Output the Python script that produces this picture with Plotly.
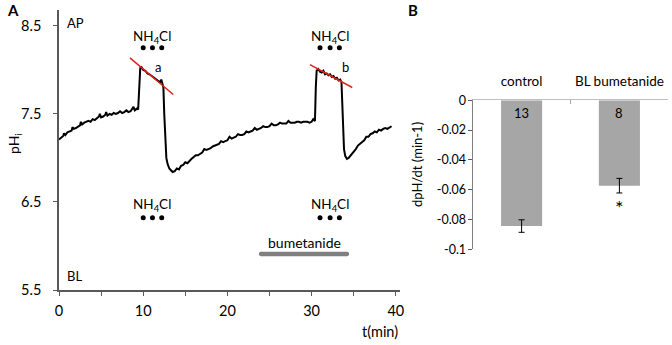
import plotly.graph_objects as go

# ---------------- Panel A data ----------------
t_min = [0, 0.25, 0.5, 0.6, 0.75, 1.0, 1.25, 1.5, 1.6, 1.75, 2.0, 2.25, 2.5, 2.6, 2.75, 3.0, 3.25, 3.5,
         3.75, 4.0, 4.25, 4.5, 4.75, 4.85, 5.0, 5.25, 5.5, 5.6, 5.75, 6.0, 6.25, 6.5, 6.75, 7.0, 7.25,
         7.5, 7.75, 8.0, 8.25, 8.5, 8.75, 8.85, 9.0, 9.25, 9.4,
         9.55, 9.65, 9.8, 10.0, 10.25, 10.5, 10.75, 11.0, 11.25, 11.5, 11.75, 12.0, 12.15, 12.3,
         12.4, 12.5, 12.6, 12.75, 12.9, 13.1, 13.3, 13.5, 13.75,
         14.0, 14.25, 14.5, 14.75, 15.0, 15.25, 15.5, 15.75, 16.0, 16.25, 16.5, 16.75, 17.0, 17.25,
         17.5, 17.75, 18.0, 18.25, 18.5, 18.75, 19.0, 19.25, 19.5, 19.75, 20.0, 20.25, 20.5, 20.75,
         21.0, 21.25, 21.5, 21.75, 22.0, 22.25, 22.5, 22.75, 23.0, 23.25, 23.5, 23.75, 24.0, 24.25,
         24.5, 24.75, 25.0, 25.25, 25.5, 25.75, 26.0, 26.25, 26.5, 26.75, 27.0, 27.25, 27.5, 27.75,
         28.0, 28.25, 28.5, 28.75, 29.0, 29.25, 29.5, 29.75, 30.0, 30.2, 30.4,
         30.5, 30.6, 30.8, 31.0, 31.2, 31.4, 31.6, 31.8, 32.0, 32.2, 32.4, 32.6, 32.8, 33.0, 33.2,
         33.4, 33.55, 33.65, 33.75, 33.85, 34.0, 34.2, 34.4, 34.75, 35.0, 35.25, 35.5, 35.75, 36.0,
         36.25, 36.5, 36.75, 37.0, 37.25, 37.5, 37.75, 38.0, 38.25, 38.5, 38.75, 39.0, 39.25, 39.5]
ph_i = [7.21, 7.23, 7.25, 7.28, 7.26, 7.29, 7.30, 7.31, 7.35, 7.33, 7.34, 7.36, 7.37, 7.41, 7.38, 7.40, 7.41, 7.42,
        7.41, 7.44, 7.43, 7.45, 7.47, 7.50, 7.46, 7.47, 7.49, 7.52, 7.48, 7.50, 7.49, 7.51, 7.50, 7.51, 7.53,
        7.51, 7.52, 7.54, 7.52, 7.53, 7.56, 7.58, 7.54, 7.56, 7.55,
        7.90, 8.02, 8.03, 8.00, 7.99, 7.96, 7.95, 7.93, 7.92, 7.90, 7.88, 7.86, 7.89, 7.84,
        7.80, 7.50, 7.20, 7.00, 6.93, 6.88, 6.86, 6.84, 6.85,
        6.88, 6.87, 6.91, 6.92, 6.95, 6.94, 6.97, 6.99, 7.01, 7.03, 7.03, 7.05, 7.06, 7.10,
        7.09, 7.10, 7.11, 7.13, 7.14, 7.15, 7.16, 7.19, 7.18, 7.19, 7.20, 7.24, 7.22, 7.23,
        7.24, 7.27, 7.26, 7.26, 7.27, 7.30, 7.29, 7.30, 7.31, 7.34, 7.32, 7.33, 7.34, 7.36,
        7.35, 7.35, 7.36, 7.39, 7.37, 7.37, 7.38, 7.40, 7.39, 7.39, 7.39, 7.42, 7.40, 7.40,
        7.40, 7.41, 7.41, 7.40, 7.41, 7.41, 7.41, 7.40, 7.41, 7.44, 7.42,
        7.80, 7.99, 8.01, 7.98, 7.97, 7.99, 7.95, 7.96, 7.94, 7.95, 7.92, 7.93, 7.90, 7.91, 7.88,
        7.89, 7.86, 7.60, 7.30, 7.10, 7.02, 6.99, 7.00, 7.04, 7.08, 7.10, 7.14, 7.16, 7.19,
        7.20, 7.24, 7.24, 7.27, 7.28, 7.30, 7.29, 7.32, 7.31, 7.33, 7.34, 7.33, 7.35, 7.36]

# slope lines a and b (end points)
slope_a_t = [8.43, 13.57]
slope_a_ph = [8.136, 7.72]
slope_b_t = [29.8, 34.83]
slope_b_ph = [8.06, 7.80]

# NH4Cl pulse markers
nh4cl_t1 = [10.0, 11.1, 12.2]
nh4cl_t2 = [31.0, 32.2, 33.3]
ap_dot_ph = 8.25
bl_dot_ph = 6.32

# bumetanide application interval
bumetanide_t = [24.0, 34.2]
bumetanide_ph = 5.91

x_ticks_a = [0, 10, 20, 30, 40]
y_ticks_a = [5.5, 6.5, 7.5, 8.5]
y_ticktext_a = ["5.5", "6.5", "7.5", "8.5"]

# ---------------- Panel B data ----------------
groups = ["control", "BL bumetanide"]
dph_dt = [-0.0844, -0.0573]
dph_err = [0.0042, 0.0049]
n_cells = ["13", "8"]
y_ticks_b = [0, -0.02, -0.04, -0.06, -0.08, -0.1]
y_ticktext_b = ["0", "-0.02", "-0.04", "-0.06", "-0.08", "-0.1"]

FONT = "Lato, Carlito, Calibri, sans-serif"
W, H = 672, 345


def px(x):
    return x / W


def py(y):
    return 1 - y / H


fig = go.Figure()

# trace
fig.add_trace(go.Scatter(x=t_min, y=ph_i, mode="lines", line=dict(color="black", width=2),
                         xaxis="x", yaxis="y", hoverinfo="skip"))
for tt, pp in [(slope_a_t, slope_a_ph), (slope_b_t, slope_b_ph)]:
    fig.add_trace(go.Scatter(x=tt, y=pp, mode="lines", line=dict(color="#e3221c", width=1.5),
                             xaxis="x", yaxis="y", hoverinfo="skip"))
for tt in [nh4cl_t1, nh4cl_t2]:
    for yy in [ap_dot_ph, bl_dot_ph]:
        fig.add_trace(go.Scatter(x=tt, y=[yy] * len(tt), mode="markers",
                                 marker=dict(color="black", size=5), xaxis="x", yaxis="y",
                                 hoverinfo="skip"))
fig.add_trace(go.Scatter(x=bumetanide_t, y=[bumetanide_ph] * 2, mode="lines+markers",
                         line=dict(color="#808080", width=4.5),
                         marker=dict(color="#808080", size=4.5, line=dict(width=0)),
                         xaxis="x", yaxis="y", hoverinfo="skip"))

# bars
fig.add_trace(go.Bar(x=groups, y=dph_dt, marker=dict(color="#a6a6a6", line=dict(width=0)),
                     error_y=dict(type="data", array=dph_err, color="black", thickness=1, width=3),
                     xaxis="x2", yaxis="y2", hoverinfo="skip"))

axis_col = "#595959"
fig.update_layout(
    width=W, height=H, margin=dict(l=0, r=0, t=0, b=0),
    paper_bgcolor="white", plot_bgcolor="white", showlegend=False,
    font=dict(family=FONT, color="black", size=13),
    bargap=0.58,
    xaxis=dict(domain=[px(59), px(400)], range=[0, 40.5], anchor="y",
               tickvals=x_ticks_a, ticks="outside", ticklen=4, tickcolor=axis_col,
               showline=True, linecolor=axis_col, linewidth=1.5, showgrid=False, zeroline=False,
               tickfont=dict(size=14.5), ticklabelstandoff=3,
               minor=dict(ticks="outside", ticklen=4, dtick=5, tick0=0, tickcolor=axis_col),
               automargin=False),
    yaxis=dict(domain=[py(290), py(10)], range=[5.5, 8.68], anchor="x",
               tickvals=y_ticks_a, ticktext=y_ticktext_a, ticks="outside", ticklen=4,
               tickcolor=axis_col, showline=True, linecolor=axis_col, linewidth=1.5,
               showgrid=False, zeroline=False, tickfont=dict(size=14.5), ticklabelstandoff=9,
               automargin=False),
    xaxis2=dict(domain=[px(472.7), px(668.3)], anchor="y2", side="top", type="category",
                ticks="inside", tickson="boundaries", ticklen=4, tickcolor="#a6a6a6",
                showline=True, linecolor="#bfbfbf", linewidth=1.2, showgrid=False,
                tickfont=dict(size=13.5), ticklabelstandoff=8, automargin=False),
    yaxis2=dict(domain=[py(249.3), py(100.3)], range=[-0.1, 0], anchor="x2",
                tickvals=y_ticks_b, ticktext=y_ticktext_b, ticks="outside", ticklen=4,
                tickcolor=axis_col, showline=True, linecolor="#7f7f7f", linewidth=1.2,
                showgrid=False, zeroline=False, tickfont=dict(size=12.5), ticklabelstandoff=-1,
                automargin=False),
)

ann = []
def text(x, y, s, xref="paper", yref="paper", size=13, xanchor="center", yanchor="middle", **kw):
    ann.append(dict(x=x, y=y, xref=xref, yref=yref, text=s, showarrow=False,
                    xanchor=xanchor, yanchor=yanchor,
                    font=dict(family=FONT, size=size, color="black"), **kw))

# panel letters
text(px(13), py(10), "<b>A</b>", size=15)
text(px(413), py(10), "<b>B</b>", size=15)
# axis titles
text(px(14), py(144), "pH<sub>i</sub>", size=14, textangle=-90)
text(px(380), py(331), "t(min)", size=14.5)
text(px(417), py(165), "dpH/dt (min-1)", size=13, textangle=-90)
# panel A labels
text(0.7, 8.53, "AP", xref="x", yref="y", xanchor="left")
text(0.7, 5.66, "BL", xref="x", yref="y", xanchor="left")
for tt in [nh4cl_t1, nh4cl_t2]:
    text(tt[1], 8.37, "NH<sub>4</sub>Cl", xref="x", yref="y", size=13.5)
    text(tt[1], 6.46, "NH<sub>4</sub>Cl", xref="x", yref="y", size=13.5)
text(11.8, 8.03, "a", xref="x", yref="y", size=13)
text(34.0, 8.03, "b", xref="x", yref="y", size=13)
text(sum(bumetanide_t) / 2, 6.04, "bumetanide", xref="x", yref="y", size=14)
# panel B labels
for g, n in zip(groups, n_cells):
    text(g, -0.0085, n, xref="x2", yref="y2", size=13)
text(groups[1], -0.0715, "*", xref="x2", yref="y2", size=20)

fig.update_layout(annotations=ann)
fig.write_html("out.html", config={"displayModeBar": False},
               post_script="document.body.style.margin='0';")
